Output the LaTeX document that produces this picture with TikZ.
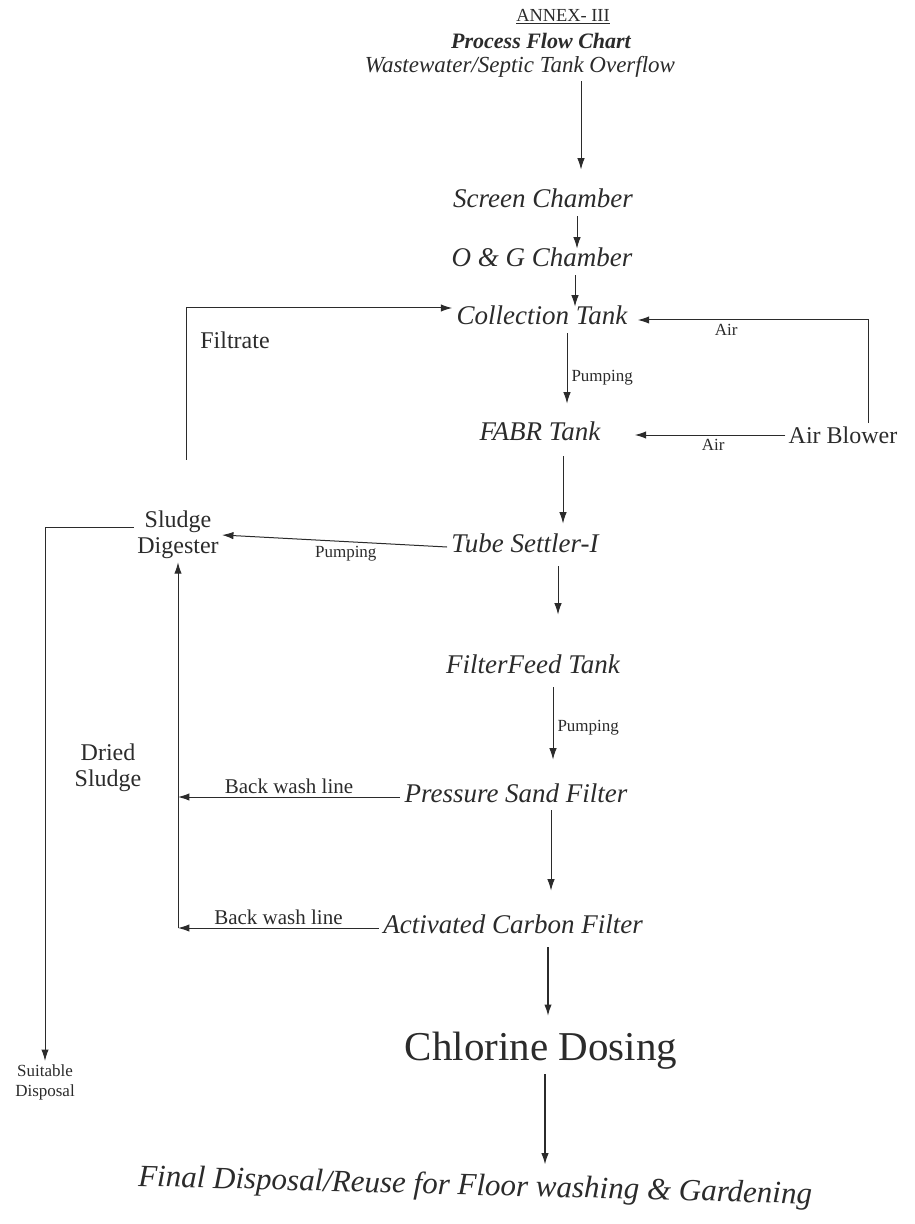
\documentclass[tikz,border=0pt]{standalone}
\usepackage{fontspec}
\setmainfont{Liberation Serif}
\usetikzlibrary{arrows.meta,positioning}
\definecolor{inkgray}{HTML}{2B2B2B}

\begin{document}
\begin{tikzpicture}[x=0.5pt, y=-0.5pt,
  stage/.style={font=\fontsize{13.5}{15}\selectfont\itshape, text=inkgray, inner sep=2pt, text height=0.7em, text depth=0.2em},
  side/.style={font=\fontsize{12}{13}\selectfont, text=inkgray, align=center, inner sep=1.5pt},
  tag/.style={font=\fontsize{8.5}{10}\selectfont, text=inkgray, inner sep=2pt},
  arrow/.style={-{Latex[length=2mm, width=1.3mm]}, line width=0.5pt, draw=inkgray},
  bold arrow/.style={arrow, line width=0.8pt}
]
\useasboundingbox (0,0) rectangle (914,1224);

% heading
\node[font=\fontsize{9.2}{11}\selectfont, text=inkgray] (annex) at (563,17) {\underline{ANNEX- III}};
\node[font=\fontsize{11}{12}\selectfont\bfseries\itshape, text=inkgray] (title) at (541,41) {Process Flow Chart};
\node[stage, font=\fontsize{11.5}{13}\selectfont\itshape] (inflow) at (520,68) {Wastewater/Septic Tank Overflow};

% main line
\node[stage] (screen) at (543,203) {Screen Chamber};
\node[stage] (og) at (542,262) {O \& G Chamber};
\node[stage] (coll) at (542,320) {Collection Tank};
\node[stage] (fabr) at (540,435) {FABR Tank};
\node[stage] (tube) at (525,547) {Tube Settler-I};
\node[stage] (feed) at (533,668) {FilterFeed Tank};
\node[stage] (psf) at (516,797) {Pressure Sand Filter};
\node[stage] (acf) at (513,928) {Activated Carbon Filter};
\node[font=\fontsize{20.5}{22}\selectfont, text=inkgray, inner sep=2pt] (chlor) at (541,1051) {Chlorine Dosing};
\node[stage, font=\fontsize{15.5}{17}\selectfont\itshape, rotate=-1.5] (final) at (475,1190) {Final Disposal/Reuse for Floor washing \& Gardening};

% side units
\node[side] (blower) at (843,435) {Air Blower};
\node[side] (digest) at (178,535) {Sludge\\Digester};
\node[side] (filt) at (235,340) {Filtrate};
\node[side] (dried) at (108,768) {Dried\\Sludge};
\node[side, font=\fontsize{8.5}{10}\selectfont] (disposal) at (45,1082) {Suitable\\Disposal};

% flow
\draw[arrow, shorten >=10pt] (inflow.south -| 581,0) -- (screen.north -| 581,0);
\draw[arrow] (screen.south -| 577,0) -- (og.north -| 577,0);
\draw[arrow] (og.south -| 575,0) -- (coll.north -| 575,0);
\draw[arrow, shorten >=9pt] (coll.south -| 567,0) -- node[tag, right] {Pumping} (fabr.north -| 567,0);
\draw[arrow, shorten <=4pt, shorten >=5pt] (fabr.south -| 563,0) -- (tube.north -| 563,0);
\draw[arrow, shorten <=3pt, shorten >=20pt] (tube.south -| 558,0) -- (feed.north -| 558,0);
\draw[arrow, shorten <=3pt, shorten >=12pt] (feed.south -| 553,0) -- node[tag, right, pos=0.45] {Pumping} (psf.north -| 553,0);
\draw[arrow, shorten >=12pt] (psf.south -| 551,0) -- (acf.north -| 551,0);
\draw[bold arrow, shorten <=3pt, shorten >=6pt] (acf.south -| 548,0) -- (chlor.north -| 548,0);
\draw[bold arrow, shorten >=6pt] (chlor.south -| 545,0) -- (final.north -| 545,0);

% air supply
\draw[arrow, shorten >=3pt] (blower.north -| 868,0) |- node[tag, below, pos=0.8] {Air} (coll.east);
\draw[arrow, shorten >=15pt] (blower.west) -- node[tag, below, pos=0.4] {Air} (fabr.east);

% sludge and filtrate
\draw[arrow] (tube.west) -- node[tag, below, pos=0.45] {Pumping} (digest.east);
\draw[arrow] ([xshift=4pt, yshift=24pt]digest.north) |- ([yshift=6pt]coll.west);
\draw[arrow] ([yshift=4pt]digest.west) -| (disposal.north);

% back wash
\coordinate (wash) at (acf.west -| digest.south);
\draw[arrow] (psf.west) -- node[side, above, font=\fontsize{10.5}{12}\selectfont] {Back wash line} (psf.west -| digest.south);
\draw[arrow] (acf.west) -- node[side, above, font=\fontsize{10.5}{12}\selectfont] {Back wash line} (wash);
\draw[arrow] (wash) -- (digest.south);
\end{tikzpicture}
\end{document}
